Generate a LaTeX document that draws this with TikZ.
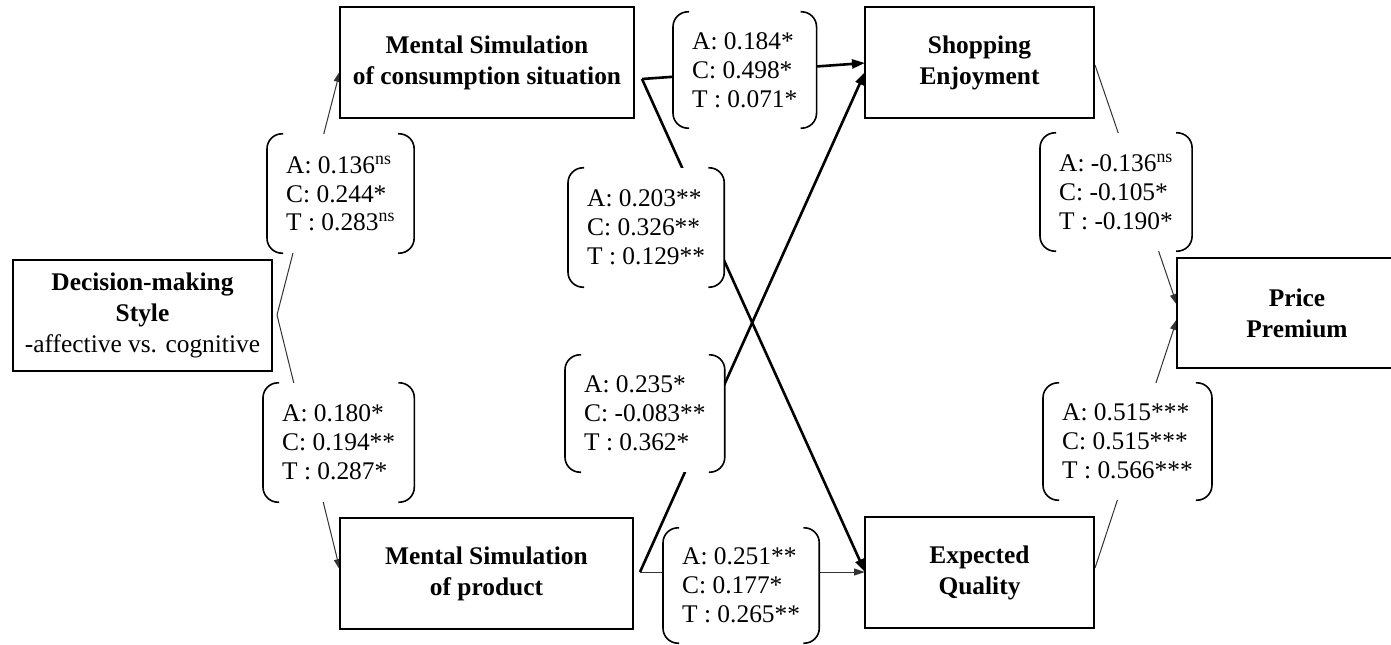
\documentclass[tikz,border=0pt]{standalone}
\usepackage{fontspec}
\setmainfont{Liberation Serif}
\usetikzlibrary{arrows.meta}
\pgfdeclarelayer{bg}
\pgfsetlayers{bg,main}
\tikzset{
  box/.style={draw, line width=1.8bp, fill=white, align=center, inner sep=0pt,
    minimum height=111bp, font=\fontsize{25.5}{31}\selectfont\bfseries},
  lab/.style={fill=white, align=left, inner xsep=19bp, inner ysep=0pt, anchor=west,
    font=\fontsize{25.5}{29}\selectfont},
  brk/.style={line width=1.6bp, rounded corners=15bp},
  boldlink/.style={line width=2.6bp, -{Triangle[length=13bp,width=9bp]}},
  thinlink/.style={line width=1bp, black!80, -{Triangle[length=11bp,width=7bp]}},
}
\newcommand\mybrackets[1]{%
  \draw[brk] ([xshift=16bp]#1.north west) -- (#1.north west) -- (#1.south west) -- ([xshift=16bp]#1.south west);
  \draw[brk] ([xshift=-16bp]#1.north east) -- (#1.north east) -- (#1.south east) -- ([xshift=-16bp]#1.south east);}
\begin{document}
\begin{tikzpicture}[x=1bp,y=-1bp]
\useasboundingbox (0,0) rectangle (1391,645);
\begin{pgfonlayer}{bg}
\fill[white] (0,0) rectangle (1391,645);
\end{pgfonlayer}
\clip (0,0) rectangle (1391,645);

% boxes
\node[box, minimum width=294bp] (mscs) at (487,62.5) {Mental Simulation\\of consumption situation};
\node[box, minimum width=229bp] (se) at (979.5,62.5) {Shopping\\Enjoyment};
\node[box, minimum width=259bp] (dms) at (142.5,315.5) {Decision-making\\Style\\{\mdseries -affective vs. cognitive}};
\node[box, minimum width=293bp] (msp) at (486.5,573.5) {Mental Simulation\\of product};
\node[box, minimum width=229bp] (eq) at (979.5,572.5) {Expected\\Quality};
\node[box, minimum width=240bp, minimum height=110bp] (pp) at (1297,313) {Price\\Premium};

% labels
\node[lab, minimum height=119bp] (l1) at (267,193.5) {A: 0.136\textsuperscript{ns}\\C: 0.244*\\T : 0.283\textsuperscript{ns}};
\node[lab, minimum height=116bp] (l2) at (673,70) {A: 0.184*\\C: 0.498*\\T : 0.071*};
\node[lab, minimum height=119bp] (l3) at (568,227.5) {A: 0.203**\\C: 0.326**\\T : 0.129**};
\node[lab, minimum height=119bp] (l4) at (263,442.5) {A: 0.180*\\C: 0.194**\\T : 0.287*};
\node[lab, minimum height=117bp] (l5) at (565,413.5) {A: 0.235*\\C: -0.083**\\T : 0.362*};
\node[lab, minimum height=115bp] (l6) at (663,585.5) {A: 0.251**\\C: 0.177*\\T : 0.265**};
\node[lab, minimum height=118bp] (l7) at (1040,192) {A: -0.136\textsuperscript{ns}\\C: -0.105*\\T : -0.190*};
\node[lab, minimum height=117bp] (l8) at (1043,441.5) {A: 0.515***\\C: 0.515***\\T : 0.566***};
\foreach \n in {l1,l2,l3,l4,l5,l6,l7,l8} {\mybrackets{\n}}

% connector ends
\coordinate (dmso) at (277,315);
\coordinate (mscsin) at (340,71);
\coordinate (mspin) at (340,570);
\coordinate (mscso) at (642,79);
\coordinate (mspo) at (640,572);
\coordinate (sein1) at (865,63);
\coordinate (sein2) at (865,72);
\coordinate (eqin) at (865,572);
\coordinate (seo) at (1095,65);
\coordinate (eqo) at (1095,568);
\coordinate (ppin1) at (1177,305);
\coordinate (ppin2) at (1177,319);

\begin{pgfonlayer}{bg}
\draw[thinlink] (dmso) -- (mscsin);
\draw[thinlink] (dmso) -- (mspin);
\draw[boldlink] (mscso) -- (sein1);
\draw[boldlink] (mscso) -- (eqin);
\draw[boldlink] (mspo) -- (sein2);
\draw[thinlink] (mspo) -- (eqin);
\draw[thinlink] (seo) -- (ppin1);
\draw[thinlink] (eqo) -- (ppin2);
\end{pgfonlayer}
\end{tikzpicture}
\end{document}
